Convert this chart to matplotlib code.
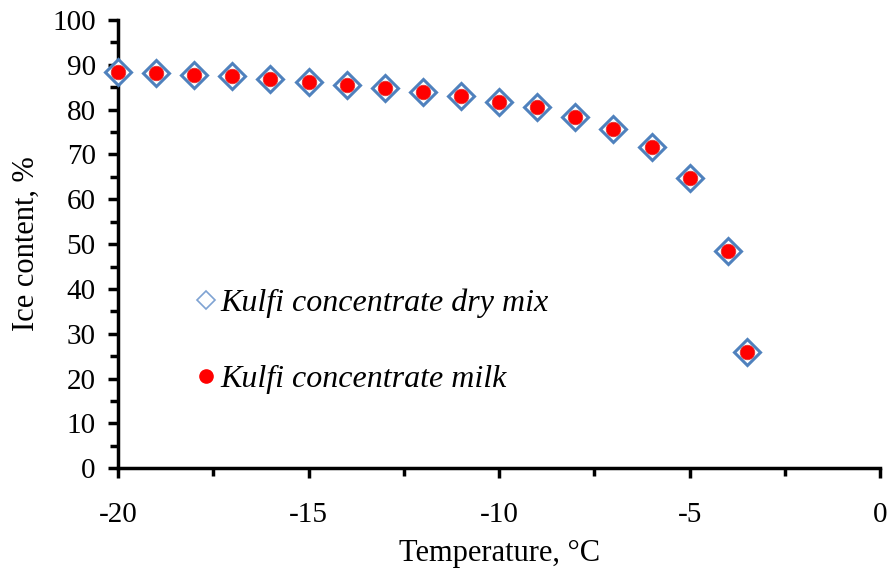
import numpy as np
import matplotlib.pyplot as plt
from matplotlib.lines import Line2D
from matplotlib.ticker import MultipleLocator

# data
temp = [-20, -19, -18, -17, -16, -15, -14, -13, -12, -11, -10, -9, -8, -7, -6, -5, -4, -3.5]
ice_dry_mix = [88.4, 88.2, 87.7, 87.4, 86.8, 86.2, 85.6, 84.8, 83.9, 83.0, 81.8, 80.5, 78.4, 75.7, 71.6, 64.8, 48.4, 26.0]
ice_milk = [88.4, 88.2, 87.7, 87.4, 86.8, 86.2, 85.6, 84.8, 83.9, 83.0, 81.8, 80.5, 78.4, 75.7, 71.6, 64.8, 48.4, 26.0]

plt.rcParams['font.family'] = ['Liberation Serif', 'DejaVu Serif']
plt.rcParams['axes.unicode_minus'] = False

fig = plt.figure(figsize=(8.9, 5.71), dpi=100)
ax = fig.add_axes([0.1326, 0.180, 0.8564, 0.785])

ax.plot(temp, ice_dry_mix, linestyle='none', marker='D', ms=13.5,
        mfc='white', mec='#4F81BD', mew=2.2, clip_on=False, zorder=3)
ax.plot(temp, ice_milk, linestyle='none', marker='o', ms=10.5,
        mfc='#FF0000', mec='#E03030', mew=0.5, clip_on=False, zorder=4)

ax.set_xlim(-20, 0)
ax.set_ylim(0, 100)
ax.xaxis.set_major_locator(MultipleLocator(5))
ax.xaxis.set_minor_locator(MultipleLocator(2.5))
ax.yaxis.set_major_locator(MultipleLocator(10))
ax.yaxis.set_minor_locator(MultipleLocator(5))

for s in ['top', 'right']:
    ax.spines[s].set_visible(False)
for s in ['left', 'bottom']:
    ax.spines[s].set_linewidth(2.5)

ax.tick_params(which='major', direction='out', length=7, width=2.5, labelsize=21)
ax.tick_params(which='minor', direction='out', length=6, width=2.5)
ax.tick_params(axis='x', which='major', pad=17)
ax.tick_params(axis='y', which='major', pad=9)

ax.set_xlabel('Temperature, °C', fontsize=22, labelpad=8)
ax.set_ylabel('Ice content, %', fontsize=22, labelpad=8)

handles = [
    Line2D([], [], linestyle='none', marker='D', ms=9, mfc='white', mec='#7FA3D3', mew=1.2),
    Line2D([], [], linestyle='none', marker='o', ms=9.5, mfc='#FF0000', mec='#FF0000'),
]
ax.legend(handles, ['Kulfi concentrate dry mix', 'Kulfi concentrate milk'],
          loc='center left', bbox_to_anchor=(0.078, 0.283), frameon=False,
          prop={'style': 'italic', 'size': 23}, handletextpad=0.05,
          handlelength=0.8, labelspacing=1.47, borderpad=0)

fig.savefig('out.png', dpi=100)
